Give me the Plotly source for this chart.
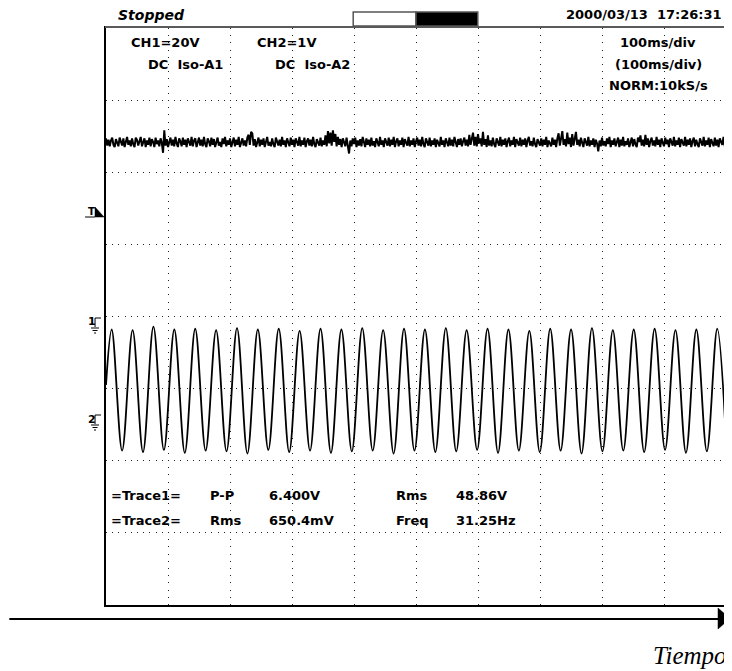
import plotly.graph_objects as go

# CH1 trace: DC level with noise, one sample every 2 ms (values in divisions)
CH1_DT = 2
CH1_Y = [
    2.47, 2.37, 2.45, 2.36, 2.44, 2.48, 2.38, 2.35, 2.46, 2.41,
    2.36, 2.48, 2.43, 2.37, 2.47, 2.35, 2.42, 2.49, 2.38, 2.44,
    2.36, 2.47, 2.39, 2.35, 2.48, 2.45, 2.37, 2.43, 2.49, 2.36,
    2.41, 2.47, 2.35, 2.44, 2.38, 2.48, 2.36, 2.46, 2.42, 2.35,
    2.48, 2.39, 2.44, 2.36, 2.47, 2.41, 2.27, 2.58, 2.37, 2.46,
    2.35, 2.43, 2.48, 2.37, 2.45, 2.36, 2.49, 2.40, 2.35, 2.47,
    2.43, 2.36, 2.48, 2.38, 2.45, 2.35, 2.47, 2.42, 2.37, 2.49,
    2.36, 2.44, 2.47, 2.35, 2.41, 2.48, 2.37, 2.45, 2.36, 2.49,
    2.39, 2.35, 2.47, 2.43, 2.36, 2.48, 2.38, 2.46, 2.35, 2.44,
    2.48, 2.37, 2.42, 2.35, 2.47, 2.39, 2.49, 2.36, 2.44, 2.38,
    2.47, 2.35, 2.43, 2.48, 2.36, 2.45, 2.38, 2.49, 2.35, 2.42,
    2.47, 2.37, 2.44, 2.36, 2.48, 2.52, 2.38, 2.56, 2.54, 2.37,
    2.46, 2.35, 2.43, 2.48, 2.36, 2.45, 2.38, 2.47, 2.35, 2.44,
    2.49, 2.37, 2.42, 2.36, 2.47, 2.39, 2.35, 2.48, 2.43, 2.37,
    2.45, 2.36, 2.49, 2.38, 2.44, 2.35, 2.47, 2.41, 2.36, 2.48,
    2.38, 2.45, 2.35, 2.47, 2.42, 2.37, 2.49, 2.36, 2.44, 2.38,
    2.48, 2.35, 2.43, 2.47, 2.37, 2.45, 2.36, 2.49, 2.39, 2.35,
    2.46, 2.42, 2.37, 2.48, 2.36, 2.44, 2.38, 2.51, 2.36, 2.57,
    2.40, 2.55, 2.37, 2.58, 2.42, 2.53, 2.36, 2.49, 2.38, 2.46,
    2.35, 2.47, 2.41, 2.36, 2.48, 2.37, 2.26, 2.44, 2.36, 2.47,
    2.39, 2.48, 2.35, 2.44, 2.37, 2.46, 2.36, 2.49, 2.41, 2.35,
    2.47, 2.38, 2.45, 2.36, 2.48, 2.37, 2.43, 2.35, 2.47, 2.40,
    2.36, 2.49, 2.38, 2.44, 2.35, 2.47, 2.42, 2.37, 2.48, 2.36,
    2.45, 2.38, 2.49, 2.35, 2.43, 2.47, 2.36, 2.44, 2.38, 2.48,
    2.35, 2.46, 2.41, 2.37, 2.49, 2.36, 2.44, 2.38, 2.47, 2.35,
    2.43, 2.48, 2.37, 2.45, 2.36, 2.49, 2.39, 2.35, 2.47, 2.42,
    2.37, 2.48, 2.36, 2.44, 2.38, 2.47, 2.35, 2.45, 2.41, 2.36,
    2.49, 2.38, 2.44, 2.35, 2.47, 2.40, 2.36, 2.48, 2.37, 2.45,
    2.36, 2.49, 2.42, 2.35, 2.46, 2.38, 2.47, 2.36, 2.43, 2.48,
    2.37, 2.45, 2.36, 2.52, 2.38, 2.47, 2.55, 2.37, 2.49, 2.36,
    2.53, 2.40, 2.47, 2.36, 2.56, 2.38, 2.46, 2.35, 2.51, 2.37,
    2.44, 2.36, 2.48, 2.39, 2.35, 2.47, 2.42, 2.37, 2.49, 2.36,
    2.45, 2.38, 2.47, 2.35, 2.43, 2.48, 2.36, 2.44, 2.38, 2.49,
    2.35, 2.46, 2.41, 2.37, 2.48, 2.36, 2.45, 2.38, 2.47, 2.35,
    2.44, 2.49, 2.37, 2.43, 2.36, 2.48, 2.39, 2.35, 2.46, 2.42,
    2.37, 2.47, 2.36, 2.45, 2.38, 2.49, 2.35, 2.44, 2.41, 2.36,
    2.48, 2.38, 2.45, 2.35, 2.47, 2.54, 2.37, 2.49, 2.57, 2.38,
    2.46, 2.36, 2.55, 2.39, 2.48, 2.35, 2.53, 2.37, 2.47, 2.56,
    2.38, 2.45, 2.36, 2.48, 2.41, 2.35, 2.47, 2.43, 2.37, 2.49,
    2.36, 2.44, 2.38, 2.47, 2.35, 2.45, 2.40, 2.29, 2.44, 2.36,
    2.48, 2.37, 2.43, 2.36, 2.47, 2.39, 2.49, 2.35, 2.44, 2.38,
    2.47, 2.36, 2.42, 2.48, 2.35, 2.45, 2.37, 2.49, 2.36, 2.43,
    2.38, 2.47, 2.35, 2.44, 2.48, 2.36, 2.46, 2.39, 2.35, 2.48,
    2.42, 2.51, 2.37, 2.45, 2.36, 2.52, 2.38, 2.47, 2.35, 2.43,
    2.48, 2.37, 2.44, 2.36, 2.49, 2.38, 2.45, 2.35, 2.47, 2.41,
    2.36, 2.48, 2.39, 2.45, 2.35, 2.47, 2.43, 2.37, 2.49, 2.36,
    2.44, 2.38, 2.48, 2.35, 2.46, 2.41, 2.37, 2.49, 2.36, 2.45,
    2.38, 2.47, 2.35, 2.43, 2.48, 2.36, 2.45, 2.39, 2.35, 2.47,
    2.42, 2.37, 2.49, 2.36, 2.44, 2.38, 2.48, 2.35, 2.46, 2.40,
    2.36, 2.48, 2.37, 2.45, 2.35, 2.47, 2.42, 2.38, 2.49, 2.36,
    2.44,
]

# CH2 trace: turning points of the sine (ms, divisions)
CH2_T = [
    0, 9.2, 26.0, 42.9, 59.7, 76.5, 93.4, 110.2, 127.1, 143.9,
    160.7, 177.6, 194.4, 211.3, 228.1, 244.9, 261.8, 278.6, 295.5, 312.3,
    329.1, 346.0, 362.8, 379.7, 396.5, 413.3, 430.2, 447.0, 463.9, 480.7,
    497.5, 514.4, 531.2, 548.1, 564.9, 581.7, 598.6, 615.4, 632.3, 649.1,
    665.9, 682.8, 699.6, 716.5, 733.3, 750.1, 767.0, 783.8, 800.7, 817.5,
    834.3, 851.2, 868.0, 884.9, 901.7, 918.5, 935.4, 952.2, 969.1, 985.9,
    1000,
]
CH2_Y = [
    -0.95, -0.18, -1.86, -0.19, -1.88, -0.14, -1.85, -0.18, -1.89, -0.17,
    -1.86, -0.19, -1.87, -0.16, -1.90, -0.18, -1.85, -0.17, -1.88, -0.20,
    -1.86, -0.17, -1.89, -0.18, -1.87, -0.16, -1.86, -0.19, -1.90, -0.17,
    -1.86, -0.18, -1.88, -0.16, -1.87, -0.19, -1.85, -0.17, -1.89, -0.18,
    -1.86, -0.20, -1.88, -0.17, -1.86, -0.18, -1.90, -0.16, -1.87, -0.19,
    -1.86, -0.18, -1.88, -0.17, -1.85, -0.19, -1.89, -0.18, -1.87, -0.17,
    -1.72,
]

HEADER_LEFT = "Stopped"
HEADER_RIGHT = "2000/03/13\u00a0\u00a017:26:31"
CH_LABELS = ["CH1=20V", "CH2=1V"]
COUPLING = ["DC\u00a0\u00a0Iso-A1", "DC\u00a0\u00a0Iso-A2"]
TIMEBASE = ["100ms/div", "(100ms/div)", "NORM:10kS/s"]
MEAS_ROW1 = ["=Trace1=", "P-P", "6.400V", "Rms", "48.86V"]
MEAS_ROW2 = ["=Trace2=", "Rms", "650.4mV", "Freq", "31.25Hz"]
AXIS_LABEL = "Tiempo"

# screen geometry in page pixels; the page body adds an 8 px margin
OFF = 8
W, H = 732 - OFF, 671 - OFF
L, R, T, B = 106, 728, 28, 605
def px(x):
    return (x - L) / (R - L)
def py(y):
    return (B - y) / (B - T)

FONT = "DejaVu Sans, Liberation Sans, sans-serif"

fig = go.Figure()
fig.add_trace(go.Scatter(x0=0, dx=CH1_DT, y=CH1_Y, mode="lines",
                         line=dict(color="black", width=2), hoverinfo="skip"))
fig.add_trace(go.Scatter(x=CH2_T, y=CH2_Y, mode="lines",
                         line=dict(color="black", width=1.8, shape="spline", smoothing=1),
                         hoverinfo="skip"))

ann = []
def txt(x, y, s, anchor="left", size=13, bold=True, italic=False, family=FONT):
    # x, y are page pixels of the reference screen
    if bold:
        s = "<b>" + s + "</b>"
    if italic:
        s = "<i>" + s + "</i>"
    ann.append(dict(x=px(x), y=py(y), xref="paper", yref="paper", text=s,
                    showarrow=False, xanchor=anchor, yanchor="middle",
                    font=dict(family=family, size=size, color="black")))

txt(116, 15, HEADER_LEFT, size=14, italic=True)
txt(726, 15, HEADER_RIGHT, anchor="right")
txt(166, 42, CH_LABELS[0], anchor="center")
txt(287, 42, CH_LABELS[1], anchor="center")
txt(186, 64, COUPLING[0], anchor="center")
txt(313, 64, COUPLING[1], anchor="center")
txt(660, 42, TIMEBASE[0], anchor="center")
txt(660, 64, TIMEBASE[1], anchor="center")
txt(660, 85, TIMEBASE[2], anchor="center")
cols = [109, 208, 268, 395, 455]
for cx, s in zip(cols, MEAS_ROW1):
    txt(cx, 495, s)
for cx, s in zip(cols, MEAS_ROW2):
    txt(cx, 520, s)
txt(731, 655, AXIS_LABEL, anchor="right", size=25, bold=False, italic=True,
    family="Liberation Serif, Times New Roman, serif")

# marker labels left of the screen
txt(86, 212, "T", size=10)
txt(86, 322, "1", size=11)
txt(86, 419, "2", size=11)

shapes = []
def seg(x0, y0, x1, y1, w=1, c="black"):
    shapes.append(dict(type="line", xref="paper", yref="paper",
                       x0=px(x0), y0=py(y0), x1=px(x1), y1=py(y1),
                       line=dict(color=c, width=w)))
def poly(pts, fill="black"):
    path = "M " + " L ".join("%.4f,%.4f" % (px(a), py(b)) for a, b in pts) + " Z"
    shapes.append(dict(type="path", xref="paper", yref="paper", path=path,
                       fillcolor=fill, line=dict(color=fill, width=0.5)))

# grey top edge of the screen frame
seg(L - 1, T - 1, R + 1, T - 1, w=2, c="#5a5a5a")

# progress bar in the header
shapes.append(dict(type="rect", xref="paper", yref="paper", x0=px(354), x1=px(417),
                   y0=py(26), y1=py(12), fillcolor="white", line=dict(color="#555", width=1.5)))
shapes.append(dict(type="rect", xref="paper", yref="paper", x0=px(417), x1=px(479),
                   y0=py(26), y1=py(12), fillcolor="black", line=dict(color="#555", width=1.5)))

# trigger mark
seg(85, 217, 95, 217)
poly([(95, 207), (95, 217), (104, 217)])
# ground marks
for top in (318, 415):
    seg(95, top, 101, top)
    seg(95, top, 95, top + 9)
    seg(91, top + 10, 99, top + 10)
    seg(92.5, top + 12.5, 97.5, top + 12.5)
    seg(94, top + 15, 96, top + 15)

# time arrow under the screen
seg(9, 619, 722, 619, w=2)
poly([(720, 608), (732, 618.5), (720, 629)])

fig.update_layout(
    width=W, height=H,
    margin=dict(l=L - OFF, r=W - (R - OFF), t=T - OFF, b=H - (B - OFF)),
    paper_bgcolor="white", plot_bgcolor="white",
    showlegend=False,
    annotations=ann, shapes=shapes,
    xaxis=dict(range=[0, 1000], dtick=100, tick0=0, showticklabels=False, ticks="",
               showgrid=True, gridcolor="#222", gridwidth=1, griddash="1px,6.2px",
               zeroline=False, showline=True, mirror=True, linecolor="black", linewidth=2,
               fixedrange=True),
    yaxis=dict(range=[-4, 4], dtick=1, tick0=0, showticklabels=False, ticks="",
               showgrid=True, gridcolor="#222", gridwidth=1, griddash="1px,5.2px",
               zeroline=False, showline=True, mirror=True, linecolor="black", linewidth=2,
               fixedrange=True),
)

fig.write_html("out.html")
